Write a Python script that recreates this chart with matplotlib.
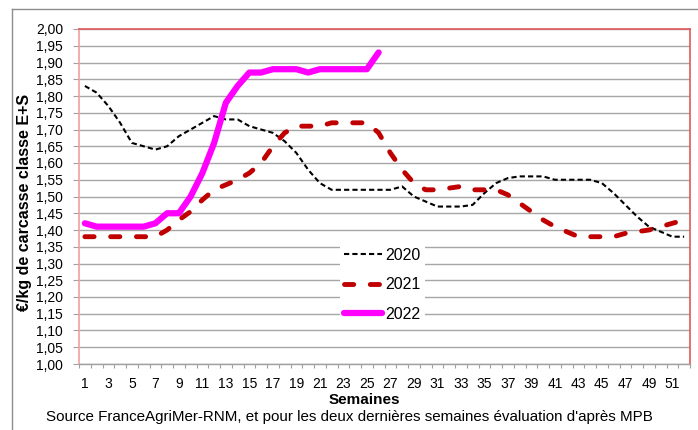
import matplotlib
matplotlib.use("Agg")
import matplotlib.pyplot as plt
from matplotlib.lines import Line2D
import numpy as np

plt.rcParams['font.family'] = ['Liberation Sans', 'DejaVu Sans']

weeks = list(range(1, 53))
y2020 = [1.83, 1.81, 1.77, 1.72, 1.66, 1.65, 1.64, 1.65, 1.68, 1.70, 1.72, 1.74, 1.73, 1.73,
         1.71, 1.70, 1.69, 1.665, 1.63, 1.58, 1.54, 1.52, 1.52, 1.52, 1.52, 1.52, 1.52, 1.53,
         1.50, 1.485, 1.47, 1.47, 1.47, 1.475, 1.51, 1.54, 1.555, 1.56, 1.56, 1.56, 1.55, 1.55,
         1.55, 1.55, 1.54, 1.51, 1.475, 1.44, 1.41, 1.395, 1.38, 1.38]
y2021 = [1.38, 1.38, 1.38, 1.38, 1.38, 1.38, 1.38, 1.40, 1.43, 1.455, 1.49, 1.52, 1.535, 1.55,
         1.57, 1.60, 1.65, 1.69, 1.71, 1.71, 1.71, 1.72, 1.72, 1.72, 1.72, 1.69, 1.63, 1.58,
         1.54, 1.52, 1.52, 1.525, 1.53, 1.52, 1.52, 1.52, 1.505, 1.48, 1.455, 1.43, 1.41, 1.395,
         1.38, 1.38, 1.38, 1.38, 1.39, 1.395, 1.40, 1.41, 1.42, 1.43]
y2022 = [1.42, 1.41, 1.41, 1.41, 1.41, 1.41, 1.42, 1.45, 1.45, 1.50, 1.57, 1.66, 1.78, 1.83,
         1.87, 1.87, 1.88, 1.88, 1.88, 1.87, 1.88, 1.88, 1.88, 1.88, 1.88, 1.93]
series_labels = ['2020', '2021', '2022']
ytick_vals = [round(1.0 + 0.05 * i, 2) for i in range(21)]
ytick_labels = [f"{v:.2f}".replace('.', ',') for v in ytick_vals]
xtick_labels = [str(w) if w % 2 == 1 else '' for w in weeks]

fig = plt.figure(figsize=(6.98, 4.30), dpi=100)
ax = fig.add_axes([79/698, 1 - 364/430, (690-79)/698, (364-29)/430])

ax.set_xlim(0.5, 52.5)
ax.set_ylim(1.0, 2.0)
ax.set_yticks(ytick_vals)
ax.set_yticklabels(ytick_labels)
ax.yaxis.grid(True, color='#a6a6a6', linewidth=1.0)
ax.set_axisbelow(True)

ax.set_xticks(weeks)
ax.set_xticklabels(xtick_labels)
ax.set_xticks([w + 0.5 for w in [0] + weeks], minor=True)
ax.tick_params(axis='x', which='major', length=0, pad=9, labelsize=10, colors='black')
ax.tick_params(axis='x', which='minor', length=3, color='#a0a0a0', width=0.8)
ax.tick_params(axis='y', which='major', length=4.5, color='#a0a0a0', width=0.8, pad=7, labelsize=10)

for side in ['top', 'right']:
    ax.spines[side].set_color('#e05a5a')
    ax.spines[side].set_linewidth(1.2)
ax.spines['left'].set_color('#f0a0a0')
ax.spines['left'].set_linewidth(1.2)
ax.spines['bottom'].set_color('#a0a0a0')
ax.spines['bottom'].set_linewidth(1.0)

l1, = ax.plot(weeks, y2020, color='black', linewidth=1.5, linestyle=(0, (2.5, 1.5)),
              label=series_labels[0])
l2, = ax.plot(weeks, y2021, color='#c00000', linewidth=3.5, linestyle=(0, (1.9, 3.4)),
              dash_capstyle='round', label=series_labels[1])
l3, = ax.plot(weeks[:len(y2022)], y2022, color='#ff00ff', linewidth=4.5,
              solid_capstyle='round', solid_joinstyle='round', label=series_labels[2])

leg = ax.legend(handles=[l1, l2, l3], loc='upper left',
                bbox_to_anchor=(340/698, 1 - 244/430), bbox_transform=fig.transFigure,
                frameon=True, fancybox=False, edgecolor='none', facecolor='white',
                framealpha=1.0, fontsize=11.5, handlelength=2.4, handletextpad=0.2,
                labelspacing=0.9, borderpad=0.25, borderaxespad=0)

fig.text(25/698, 1 - 202/430, '€/kg de carcasse classe E+S', rotation=90,
         ha='center', va='center', fontsize=11.5, fontweight='bold')

fig.text(364/698, 1 - 400/430, 'Semaines', ha='center', va='center',
         fontsize=11, fontweight='bold')
fig.text(349/698, 1 - 417/430,
         "Source FranceAgriMer-RNM, et pour les deux dernières semaines évaluation d'après MPB",
         ha='center', va='center', fontsize=10.9)

# outer chart border
fig.add_artist(Line2D([12/698, 12/698], [0, 1 - 9/430], transform=fig.transFigure,
                      color='#8c8c8c', linewidth=1.0))
fig.add_artist(Line2D([12/698, 1], [1 - 9/430, 1 - 9/430], transform=fig.transFigure,
                      color='#8c8c8c', linewidth=1.0))

fig.savefig('out.png', dpi=100)
